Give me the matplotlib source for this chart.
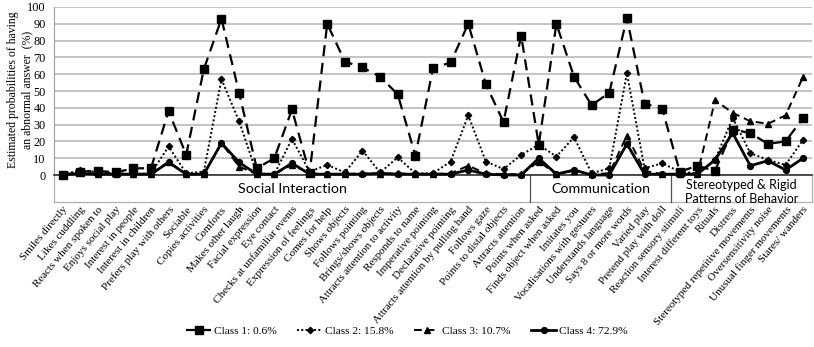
import matplotlib
matplotlib.use("Agg")
import matplotlib.pyplot as plt
from matplotlib.lines import Line2D

categories = [
    "Smiles directly", "Likes cuddling", "Reacts when spoken to", "Enjoys social play",
    "Interest in people", "Interest in children", "Prefers play with others", "Sociable",
    "Copies activities", "Comforts", "Makes other laugh", "Facial expression", "Eye contact",
    "Checks at unfamiliar events", "Expression of feelings", "Comes for help", "Shows objects",
    "Follows pointing", "Brings/shows objects", "Attracts attention to activity",
    "Responds to name", "Imperative pointing", "Declarative pointing",
    "Attracts attention by pulling hand", "Follows gaze", "Points to distal objects",
    "Attracts attention", "Points when asked", "Finds object when asked", "Imitates you",
    "Vocalisations with gestures", "Understands language", "Says 8 or more words",
    "Varied play", "Pretend play with doll", "Reaction sensory stimuli",
    "Interest different toys", "Rituals", "Distress", "Stereotyped repetitive movements",
    "Oversensitivity noise", "Unusual finger movements", "Stares/ wanders",
]

class1 = [0, 2, 2.5, 1.5, 4, 4, 38, 12, 63, 93, 49, 4, 10, 39, 1, 90, 67.5, 64, 58.5, 48,
          11.5, 63.5, 67, 90, 54, 31.5, 83, 18, 90, 58.5, 41.5, 49, 93.5, 42.5, 39.5, 2,
          5.5, 2.5, 27, 25, 18.5, 20, 34]
class2 = [0, 3.2, 1.5, 1, 0.5, 1, 17, 1, 2, 57, 32, 1, 0.5, 21.5, 2, 6, 1.5, 14.5, 1.5,
          10.5, 1, 1, 8, 35.5, 8, 3.5, 12, 18, 11, 22.5, 1, 4, 60.5, 4, 7, 2, 1, 9, 34, 13,
          9, 6, 21]
class3 = [0, 1.5, 0.5, 0.5, 0.5, 0.5, 8, 0.5, 0.5, 19, 5, 0.5, 0.5, 6, 1, 0.5, 0.5, 1,
          0.5, 1, 0.5, 0.5, 1, 5.5, 1, 0.5, 0.5, 8, 0.5, 2.5, 0.5, 1, 23.5, 2.5, 0.5, 0.5,
          0.5, 44.5, 37, 32, 30.5, 35.5, 58.5]
class4 = [0, 1, 0.5, 0.5, 0.5, 0.5, 7.5, 0.5, 0.5, 19, 7.5, 0.5, 0.5, 7, 0.5, 0.5, 0.5,
          0.5, 1, 0.5, 0.5, 0.5, 0.5, 3, 0.5, 0, 0, 10, 0.5, 3, 0, 0, 18.5, 0.5, 0.5, 0.5,
          0.5, 9, 25, 5.5, 8.5, 3, 10]

series_labels = ["Class 1: 0.6%", "Class 2: 15.8%", "Class 3: 10.7%", "Class 4: 72.9%"]
groups = ["Social Interaction", "Communication", "Stereotyped & Rigid\nPatterns of Behavior"]
group_sizes = [27, 8, 8]
yticks = list(range(0, 101, 10))

SERIF = "Liberation Serif"
SANS = "Lato"

fig = plt.figure(figsize=(8.14, 3.47), dpi=100)
W, H = 814, 347
left_px, right_px, top_px, bottom_px = 54, 812, 7, 175
ax = fig.add_axes([left_px / W, 1 - bottom_px / H, (right_px - left_px) / W,
                   (bottom_px - top_px) / H])
AH = bottom_px - top_px

x = list(range(len(categories)))
styles = [
    dict(ls=(0, (5, 3)), lw=1.6, marker="s", ms=5.5),
    dict(ls=(0, (1, 1.2)), lw=1.4, marker="D", ms=3.2),
    dict(ls=(0, (4, 2.5)), lw=1.4, marker="^", ms=4.5),
    dict(ls="-", lw=2.0, marker="o", ms=4.2),
]
for data, st, lab in zip([class1, class2, class3, class4], styles, series_labels):
    ax.plot(x, data, color="black", label=lab, clip_on=False, zorder=3, **st)

ax.set_xlim(-0.5, len(categories) - 0.5)
ax.set_ylim(0, 100)
ax.set_yticks(yticks)
ax.set_yticklabels([str(v) for v in yticks], fontfamily=SERIF, fontsize=8.8)
ax.yaxis.grid(True, color="#b4b4b4", lw=1.1)
ax.set_axisbelow(True)
for s in ["top", "right"]:
    ax.spines[s].set_visible(False)
ax.spines["left"].set_color("#a0a0a0")
ax.spines["bottom"].set_color("#303030")
ax.spines["bottom"].set_linewidth(1.2)
ax.tick_params(axis="y", length=0, pad=6)
ax.tick_params(axis="x", length=0, pad=21.5)
ax.set_xticks(x)
ax.set_xticklabels(categories, rotation=50, ha="right", va="top",
                   rotation_mode="anchor", fontfamily=SERIF, fontsize=8.0)

# group box below axis
box_bottom = -27 / AH
trans = ax.get_xaxis_transform()
n = len(categories)
ax.add_line(Line2D([-0.5, n - 0.5], [box_bottom, box_bottom], transform=trans,
                   color="#b0b0b0", lw=0.9, clip_on=False))
ax.add_line(Line2D([-0.5, -0.5], [0, box_bottom], transform=trans,
                   color="#b0b0b0", lw=0.9, clip_on=False))
ax.add_line(Line2D([n - 0.5, n - 0.5], [0, box_bottom], transform=trans,
                   color="#b0b0b0", lw=0.9, clip_on=False))
start = 0
for i, (g, size) in enumerate(zip(groups, group_sizes)):
    end = start + size
    if i > 0:
        ax.add_line(Line2D([start - 0.5, start - 0.5], [0, box_bottom], transform=trans,
                           color="#505050", lw=0.9, clip_on=False))
    cx = (start - 0.5 + end - 0.5) / 2
    if "\n" in g:
        ax.text(cx, -17 / AH, g, transform=trans, ha="center", va="center",
                fontfamily=SANS, fontsize=9, linespacing=1.2)
    else:
        ax.text(cx, -14 / AH, g, transform=trans, ha="center", va="center",
                fontfamily=SANS, fontsize=10.3)
    start = end

fig.text(20 / W, 1 - 90 / H, "Estimated probabilities of having\nan abnormal answer  (%)",
         rotation=90, ha="center", va="center", fontfamily=SERIF, fontsize=8.5,
         linespacing=1.2)

leg = fig.legend(loc="center", bbox_to_anchor=(407 / W, 1 - 331 / H), ncol=4,
                 frameon=False, prop={"family": SERIF, "size": 8.2}, handlelength=2.2,
                 columnspacing=1.8, handletextpad=0.25)

fig.savefig("out.png", dpi=100)
